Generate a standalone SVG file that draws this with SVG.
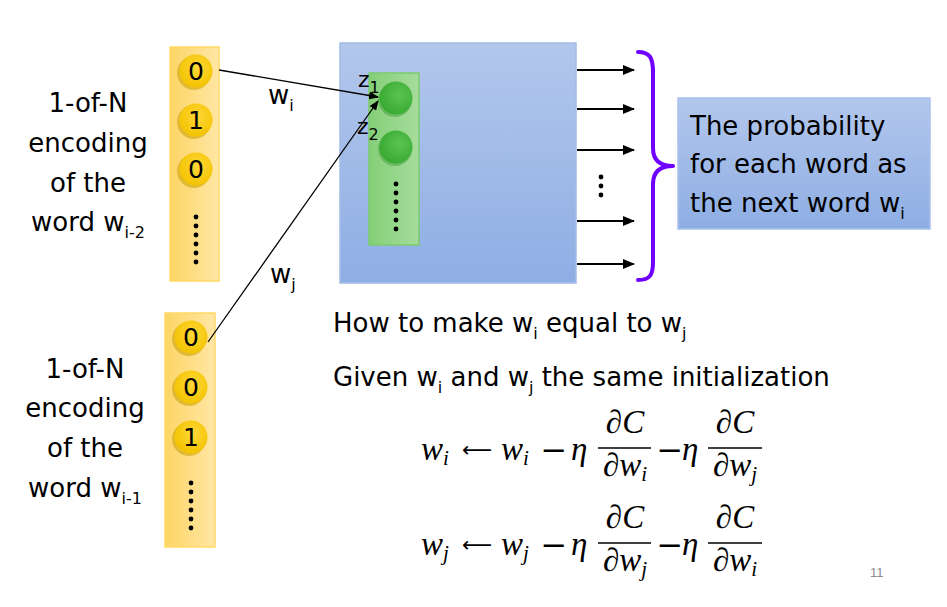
<svg xmlns="http://www.w3.org/2000/svg" width="947" height="607" viewBox="0 0 947 607">
<defs>
<linearGradient id="gYel" x1="0" y1="0" x2="1" y2="0">
<stop offset="0" stop-color="#fdd565"/><stop offset="1" stop-color="#ffe6a4"/>
</linearGradient>
<radialGradient id="gGold" cx="0.55" cy="0.4" r="0.6">
<stop offset="0" stop-color="#ffd83a"/><stop offset="1" stop-color="#f3c300"/>
</radialGradient>
<linearGradient id="gBlue" x1="0" y1="0" x2="0" y2="1">
<stop offset="0" stop-color="#b3c7ec"/><stop offset="1" stop-color="#8eaee4"/>
</linearGradient>
<linearGradient id="gGreenBox" x1="0" y1="0" x2="1" y2="0">
<stop offset="0" stop-color="#84cf78"/><stop offset="1" stop-color="#a6dc9c"/>
</linearGradient>
<radialGradient id="gGreen" cx="0.6" cy="0.4" r="0.65">
<stop offset="0" stop-color="#5cc452"/><stop offset="1" stop-color="#36a930"/>
</radialGradient>
<marker id="arrS" markerWidth="10" markerHeight="8" refX="9" refY="4" orient="auto" markerUnits="userSpaceOnUse">
<path d="M0,0 L10,4 L0,8 z" fill="#000"/>
</marker>
<marker id="arrL" markerWidth="12" markerHeight="10" refX="11" refY="5" orient="auto" markerUnits="userSpaceOnUse">
<path d="M0,0 L12,5 L0,10 z" fill="#000"/>
</marker>
</defs>
<style>
.t{font-family:"DejaVu Sans","Liberation Sans",sans-serif;font-size:26px;fill:#000}
.c{text-anchor:middle}
.sub{font-size:16px}
.dig{font-family:"DejaVu Sans","Liberation Sans",sans-serif;font-size:25px;fill:#000;text-anchor:middle}
.ybar{fill:url(#gYel);stroke:#ffd966;stroke-width:1.5}
.gold{fill:url(#gGold)}
.shad{fill:#c99f00;opacity:0.55}
.dot{fill:#000}
.m{font-family:"Liberation Serif","DejaVu Serif",serif;font-style:italic;font-size:33px;fill:#000}
.mu{font-family:"DejaVu Sans","Liberation Sans",sans-serif;font-size:32px;fill:#000}
.ar{font-family:"DejaVu Sans","Liberation Sans",sans-serif;font-size:21px;fill:#000;text-anchor:middle}
.ms{font-size:21px}
.bar{stroke:#000;stroke-width:1.5}
.out{stroke:#000;stroke-width:2;marker-end:url(#arrL)}
.in{stroke:#000;stroke-width:1.3;fill:none;marker-end:url(#arrS)}
</style>

<g id="label-top">
<text class="t c" x="88" y="112">1-of-N</text>
<text class="t c" x="88" y="152">encoding</text>
<text class="t c" x="88" y="192">of the</text>
<text class="t c" x="88" y="231">word w<tspan class="sub" dy="7">i-2</tspan></text>
</g>

<g id="vector-top">
<rect class="ybar" x="170" y="47" width="49" height="234"/>
<circle class="shad" cx="194" cy="73" r="17"/>
<circle class="gold" cx="196" cy="71" r="16.5"/>
<text class="dig" x="196" y="80">0</text>
<circle class="shad" cx="194" cy="122" r="17"/>
<circle class="gold" cx="196" cy="120" r="16.5"/>
<text class="dig" x="196" y="129">1</text>
<circle class="shad" cx="194" cy="171" r="17"/>
<circle class="gold" cx="196" cy="169" r="16.5"/>
<text class="dig" x="196" y="178">0</text>
<circle class="dot" cx="196" cy="217" r="2.4"/>
<circle class="dot" cx="196" cy="226" r="2.4"/>
<circle class="dot" cx="196" cy="235" r="2.4"/>
<circle class="dot" cx="196" cy="244" r="2.4"/>
<circle class="dot" cx="196" cy="253" r="2.4"/>
<circle class="dot" cx="196" cy="262" r="2.4"/>
</g>

<g id="label-bottom">
<text class="t c" x="85" y="378">1-of-N</text>
<text class="t c" x="85" y="417">encoding</text>
<text class="t c" x="85" y="457">of the</text>
<text class="t c" x="85" y="497">word w<tspan class="sub" dy="7">i-1</tspan></text>
</g>

<g id="vector-bottom">
<rect class="ybar" x="165" y="313" width="50" height="234"/>
<circle class="shad" cx="189" cy="339" r="17"/>
<circle class="gold" cx="191" cy="337" r="16.5"/>
<text class="dig" x="191" y="346">0</text>
<circle class="shad" cx="189" cy="389" r="17"/>
<circle class="gold" cx="191" cy="387" r="16.5"/>
<text class="dig" x="191" y="396">0</text>
<circle class="shad" cx="189" cy="439" r="17"/>
<circle class="gold" cx="191" cy="437" r="16.5"/>
<text class="dig" x="191" y="446">1</text>
<circle class="dot" cx="191" cy="483" r="2.4"/>
<circle class="dot" cx="191" cy="492" r="2.4"/>
<circle class="dot" cx="191" cy="501" r="2.4"/>
<circle class="dot" cx="191" cy="510" r="2.4"/>
<circle class="dot" cx="191" cy="519" r="2.4"/>
<circle class="dot" cx="191" cy="528" r="2.4"/>
</g>

<g id="network">
<rect x="340" y="43" width="236" height="240" fill="url(#gBlue)" stroke="#a4bce6" stroke-width="1.5"/>
<rect x="369" y="73" width="50" height="172" fill="url(#gGreenBox)" stroke="#7ccb6e" stroke-width="1.5"/>
<circle cx="395" cy="100" r="17" fill="#2f8f2a" opacity="0.4"/>
<circle cx="396" cy="98" r="16.5" fill="url(#gGreen)"/>
<circle cx="395" cy="149" r="17" fill="#2f8f2a" opacity="0.4"/>
<circle cx="396" cy="147" r="16.5" fill="url(#gGreen)"/>
<circle class="dot" cx="396" cy="184" r="2.4"/>
<circle class="dot" cx="396" cy="193" r="2.4"/>
<circle class="dot" cx="396" cy="202" r="2.4"/>
<circle class="dot" cx="396" cy="211" r="2.4"/>
<circle class="dot" cx="396" cy="220" r="2.4"/>
<circle class="dot" cx="396" cy="229" r="2.4"/>
<text class="t" x="358" y="87" style="font-size:22px">z<tspan dy="6" style="font-size:16px">1</tspan></text>
<text class="t" x="357" y="134" style="font-size:22px">z<tspan dy="6" style="font-size:16px">2</tspan></text>
</g>

<g id="connectors">
<line class="in" x1="219" y1="70" x2="378" y2="97"/>
<line class="in" x1="208" y1="342" x2="378" y2="101"/>
<line class="out" x1="577" y1="70" x2="634" y2="70"/>
<line class="out" x1="577" y1="109" x2="634" y2="109"/>
<line class="out" x1="577" y1="150" x2="634" y2="150"/>
<line class="out" x1="577" y1="221" x2="634" y2="221"/>
<line class="out" x1="577" y1="264" x2="634" y2="264"/>
<circle class="dot" cx="601" cy="177" r="2.4"/>
<circle class="dot" cx="601" cy="186" r="2.4"/>
<circle class="dot" cx="601" cy="195" r="2.4"/>
<text class="t" x="268" y="104">w<tspan class="sub" dy="7">i</tspan></text>
<text class="t" x="270" y="283">w<tspan class="sub" dy="7">j</tspan></text>
</g>

<g id="brace">
<path d="M638,52 C650,52 653,58 653,72 L653,148 C653,160 660,166 673,166 C660,166 653,172 653,184 L653,262 C653,275 650,280 638,280" fill="none" stroke="#6f00ff" stroke-width="4" stroke-linecap="round" stroke-linejoin="round"/>
</g>

<g id="probability">
<rect x="678" y="98" width="252" height="131" fill="url(#gBlue)" stroke="#a9c1eb" stroke-width="1.5"/>
<text class="t" x="690" y="135">The probability</text>
<text class="t" x="690" y="173">for each word as</text>
<text class="t" x="690" y="212">the next word w<tspan class="sub" dy="7">i</tspan></text>
</g>

<g id="question">
<text class="t" x="333" y="332">How to make w<tspan class="sub" dy="7">i</tspan><tspan dy="-7"> equal to w</tspan><tspan class="sub" dy="7">j</tspan></text>
<text class="t" x="333" y="386">Given w<tspan class="sub" dy="7">i</tspan><tspan dy="-7"> and w</tspan><tspan class="sub" dy="7">j</tspan><tspan dy="-7"> the same initialization</tspan></text>
</g>

<g id="equation1">
<text class="m" x="421" y="460">w<tspan class="ms" dy="5">i</tspan></text>
<text class="ar" x="477" y="457">⟵</text>
<text class="m" x="501" y="460">w<tspan class="ms" dy="5">i</tspan></text>
<text class="mu" x="554" y="461" text-anchor="middle">−</text>
<text class="m" x="571" y="460">η</text>
<line class="bar" x1="598" y1="448" x2="651" y2="448"/>
<text class="m" x="625" y="433" text-anchor="middle">∂C</text>
<text class="m" x="625" y="476" text-anchor="middle">∂w<tspan class="ms" dy="5">i</tspan></text>
<text class="mu" x="670" y="461" text-anchor="middle">−</text>
<text class="m" x="682" y="460">η</text>
<line class="bar" x1="708" y1="448" x2="762" y2="448"/>
<text class="m" x="735" y="433" text-anchor="middle">∂C</text>
<text class="m" x="735" y="476" text-anchor="middle">∂w<tspan class="ms" dy="5">j</tspan></text>
</g>

<g id="equation2">
<text class="m" x="421" y="555">w<tspan class="ms" dy="5">j</tspan></text>
<text class="ar" x="477" y="552">⟵</text>
<text class="m" x="501" y="555">w<tspan class="ms" dy="5">j</tspan></text>
<text class="mu" x="554" y="556" text-anchor="middle">−</text>
<text class="m" x="571" y="555">η</text>
<line class="bar" x1="598" y1="543" x2="651" y2="543"/>
<text class="m" x="625" y="528" text-anchor="middle">∂C</text>
<text class="m" x="625" y="571" text-anchor="middle">∂w<tspan class="ms" dy="5">j</tspan></text>
<text class="mu" x="670" y="556" text-anchor="middle">−</text>
<text class="m" x="682" y="555">η</text>
<line class="bar" x1="708" y1="543" x2="762" y2="543"/>
<text class="m" x="735" y="528" text-anchor="middle">∂C</text>
<text class="m" x="735" y="571" text-anchor="middle">∂w<tspan class="ms" dy="5">i</tspan></text>
</g>

<text x="870" y="577" style="font-family:'Liberation Sans',sans-serif;font-size:13px;fill:#8c8c8c">11</text>
</svg>
